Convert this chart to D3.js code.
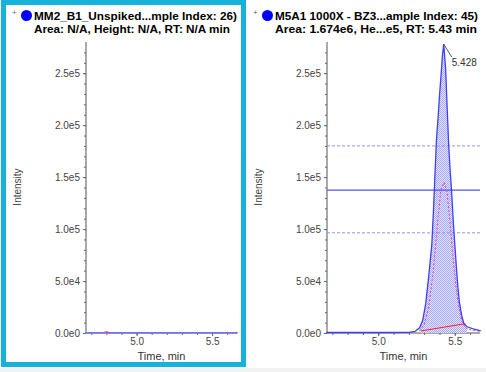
<!DOCTYPE html>
<html>
<head>
<meta charset="utf-8">
<script src="https://cdnjs.cloudflare.com/ajax/libs/d3/7.8.5/d3.min.js"></script>
<style>
  body { margin: 0; background: #fff; }
  svg { display: block; font-family: "Liberation Sans", Arial, sans-serif; }
</style>
</head>
<body>
<div id="chart"></div>
<script>
// panel titles
const titles = [
    ["MM2_B1_Unspiked...mple Index: 26)", "Area: N/A, Height: N/A, RT: N/A min"],
    ["M5A1 1000X - BZ3...ample Index: 45)", "Area: 1.674e6, He...e5, RT: 5.43 min"]
];

const yTicks = [0, 50000, 100000, 150000, 200000, 250000];
const yTickLabels = ["0.0e0", "5.0e4", "1.0e5", "1.5e5", "2.0e5", "2.5e5"];
const xTicks = [5.0, 5.5];
const xTickLabels = ["5.0", "5.5"];

// left sample: flat trace
const blankTime = [4.66, 4.78, 4.80, 4.82, 5.00, 5.30, 5.50, 5.67];
const blankInt  = [300, 300, 900, 300, 300, 300, 300, 300];

// right sample: main trace (blue, filled)
const peakTime = [4.66, 5.00, 5.20, 5.24, 5.27, 5.29, 5.31, 5.33, 5.35, 5.36, 5.37, 5.38, 5.39, 5.40,
                  5.41, 5.42, 5.428, 5.44, 5.45, 5.46, 5.47, 5.48, 5.49, 5.50, 5.51, 5.52, 5.53,
                  5.545, 5.56, 5.58, 5.62, 5.67];
const peakInt  = [500, 500, 600, 1500, 5000, 12000, 28000, 55000, 85000, 115000, 150000, 185000, 205000, 228000,
                  247000, 268000, 278000, 255000, 218000, 182000, 156000, 135000, 108000, 86000, 65000, 45000, 30000,
                  17000, 9000, 6000, 4000, 2000];

// right sample: secondary trace (magenta, dashed)
const subTime = [5.27, 5.30, 5.33, 5.36, 5.39, 5.41, 5.43, 5.45, 5.47, 5.49, 5.51, 5.53, 5.55, 5.57, 5.60, 5.67];
const subInt  = [2000, 8000, 25000, 60000, 110000, 138000, 145000, 135000, 105000, 70000, 42000, 22000, 10000, 5000, 3000, 1500];

// integration baseline and reference levels
const baseTime = [5.28, 5.57];
const baseInt  = [2000, 9000];
const halfLevel = 137500;
const bandLevels = [180000, 96400];
const apexTime = 5.428, apexInt = 278000;

const W = 486, H = 372;
const svg = d3.select("#chart").append("svg").attr("width", W).attr("height", H);

const defs = svg.append("defs");
const pat = defs.append("pattern").attr("id", "dots")
    .attr("width", 2).attr("height", 2).attr("patternUnits", "userSpaceOnUse");
pat.append("rect").attr("width", 2).attr("height", 2).attr("fill", "#e4e4ff");
pat.append("rect").attr("width", 1).attr("height", 1).attr("fill", "#a8a8f8");
pat.append("rect").attr("x", 1).attr("y", 1).attr("width", 1).attr("height", 1).attr("fill", "#a8a8f8");

// light strip at the bottom
svg.append("rect").attr("x", 0).attr("y", 368).attr("width", W).attr("height", 4).attr("fill", "#f2f2f2");

const panels = [
    {x0: 0, left: 86, right: 237},
    {x0: 241, left: 327, right: 480}
];
const plotTop = 42, plotBottom = 333;

panels.forEach((p, i) => {
    const g = svg.append("g");
    const x = d3.scaleLinear().domain([4.665, 5.665]).range([p.left, p.right]);
    const y = d3.scaleLinear().domain([0, 280000]).range([plotBottom, plotTop]);

    // title
    g.append("text").attr("x", p.x0 + 12).attr("y", 15).attr("font-size", 8).attr("fill", "#666").text("+");
    g.append("circle").attr("cx", p.x0 + 26.5).attr("cy", 15.5).attr("r", 5.5).attr("fill", "#0000ff");
    g.append("text").attr("x", p.x0 + 34).attr("y", 20).attr("font-size", 11).attr("font-weight", "bold")
        .attr("textLength", 203).attr("lengthAdjust", "spacingAndGlyphs").text(titles[i][0]);
    g.append("text").attr("x", p.x0 + 34).attr("y", 33).attr("font-size", 11).attr("font-weight", "bold")
        .attr("textLength", i == 0 ? 196 : 202).attr("lengthAdjust", "spacingAndGlyphs").text(titles[i][1]);

    // axes
    const yAxis = d3.axisLeft(y).tickValues(yTicks).tickFormat((d, k) => yTickLabels[k]).tickSize(3).tickPadding(3);
    const yMinor = d3.axisLeft(y).tickValues(d3.range(10000, 280000, 10000)).tickFormat("").tickSize(2);
    const xAxis = d3.axisBottom(x).tickValues(xTicks).tickFormat((d, k) => xTickLabels[k]).tickSize(3).tickPadding(2);
    const xMinor = d3.axisBottom(x).tickValues(d3.range(4.7, 5.67, 0.1)).tickFormat("").tickSize(2);

    const ya = g.append("g").attr("transform", `translate(${p.left},0)`).call(yAxis);
    g.append("g").attr("transform", `translate(${p.left},0)`).call(yMinor).select(".domain").remove();
    const xa = g.append("g").attr("transform", `translate(0,${plotBottom})`).call(xAxis);
    g.append("g").attr("transform", `translate(0,${plotBottom})`).call(xMinor).select(".domain").remove();
    g.selectAll(".domain").attr("stroke", "#555");
    ya.select(".domain").attr("d", `M0,${plotTop}V${plotBottom}`);
    xa.select(".domain").attr("d", `M${p.left},0H${p.right}`);
    g.selectAll(".tick line").attr("stroke", "#666");
    g.selectAll(".tick text").attr("font-size", 10).attr("fill", "#444")
        .attr("font-family", "'Liberation Sans', Arial, sans-serif");

    g.append("text").attr("transform", `translate(${p.x0 + 21},187) rotate(-90)`)
        .attr("text-anchor", "middle").attr("font-size", 10).attr("fill", "#444").text("Intensity");
    g.append("text").attr("x", (p.left + p.right) / 2).attr("y", 360)
        .attr("text-anchor", "middle").attr("font-size", 11).attr("fill", "#333").text("Time, min");

    const line = d3.line().x(d => x(d[0])).y(d => y(d[1]));

    if (i == 0) {
        const pts = blankTime.map((t, k) => [t, blankInt[k]]);
        g.append("path").attr("d", line(pts)).attr("fill", "none").attr("stroke", "#7070ff").attr("stroke-width", 1.5);
        g.append("path").attr("d", line(pts.slice(1, 4))).attr("fill", "none").attr("stroke", "#e040c0").attr("stroke-width", 1);
    } else {
        const pts = peakTime.map((t, k) => [t, peakInt[k]]);
        const area = d3.area().x(d => x(d[0])).y0(y(0)).y1(d => y(d[1]));
        const inPeak = pts.filter(d => d[0] >= 5.26 && d[0] <= 5.58);
        g.append("path").attr("d", area(inPeak)).attr("fill", "url(#dots)");

        // reference levels
        bandLevels.forEach(v => {
            g.append("line").attr("x1", p.left).attr("x2", p.right).attr("y1", y(v)).attr("y2", y(v))
                .attr("stroke", "#9090ff").attr("stroke-dasharray", "3,2");
        });
        g.append("line").attr("x1", p.left).attr("x2", p.right).attr("y1", y(halfLevel)).attr("y2", y(halfLevel))
            .attr("stroke", "#5050f0").attr("stroke-width", 1.2);

        const sub = subTime.map((t, k) => [t, subInt[k]]);
        g.append("path").attr("d", line(sub)).attr("fill", "none").attr("stroke", "#e040b0")
            .attr("stroke-width", 1).attr("stroke-dasharray", "2,2");

        g.append("path").attr("d", line(pts)).attr("fill", "none").attr("stroke", "#4040f0").attr("stroke-width", 1.3);

        const base = baseTime.map((t, k) => [t, baseInt[k]]);
        g.append("path").attr("d", line(base)).attr("stroke", "#ff2020").attr("stroke-width", 1);

        // apex label
        g.append("line").attr("x1", x(apexTime)).attr("y1", y(apexInt))
            .attr("x2", x(apexTime) + 8).attr("y2", y(apexInt) + 13).attr("stroke", "#555");
        g.append("text").attr("x", x(apexTime) + 8).attr("y", y(apexInt) + 22)
            .attr("font-size", 10).attr("fill", "#333").text(apexTime.toFixed(3));
    }
});

// selection frame of the left panel
svg.append("rect").attr("x", 3.5).attr("y", 2.5).attr("width", 240).attr("height", 362)
    .attr("fill", "none").attr("stroke", "#17b2da").attr("stroke-width", 5);
</script>
</body>
</html>
